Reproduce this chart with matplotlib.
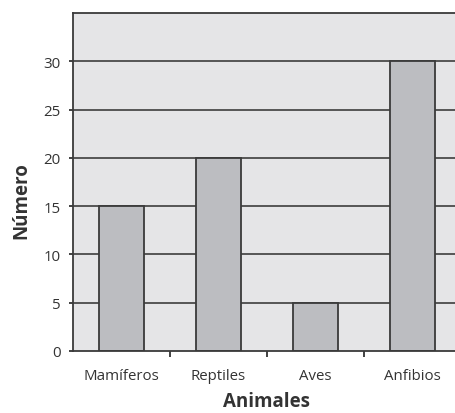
import matplotlib.pyplot as plt
import numpy as np

# número de especies por grupo
animales = ['Mamíferos', 'Reptiles', 'Aves', 'Anfibios']
numero = [15, 20, 5, 30]
marcas_y = [0, 5, 10, 15, 20, 25, 30]

plt.rcParams['font.family'] = ['Open Sans', 'DejaVu Sans']

fig = plt.figure(figsize=(4.56, 4.14), dpi=100)
# el eje se sale un poco por la derecha de la figura
ax = fig.add_axes([0.160, 0.150, 0.851, 0.816])
ax.set_facecolor('#e5e5e7')

x = np.arange(len(animales))
ax.set_xlim(-0.5, len(animales) - 0.5)
ax.set_ylim(0, 35)

# líneas horizontales detrás de las barras
for v in marcas_y[1:]:
    ax.axhline(v, color='#4a4a4a', lw=1.3, zorder=1)

ax.bar(x, numero, width=0.46, color='#bcbdc1', edgecolor='#3a3a3a',
       linewidth=1.3, zorder=2)

ax.set_yticks(marcas_y)
ax.set_xticks(x)
ax.set_xticklabels(animales)
ax.set_xticks(x[:-1] + 0.5, minor=True)
ax.tick_params(axis='x', which='major', length=0, pad=12, labelsize=10.8,
               colors='#333333')
ax.tick_params(axis='x', which='minor', length=4.5, width=1.3, color='#333333')
ax.tick_params(axis='y', length=3, width=1.3, color='#333333', labelsize=10.8,
               labelcolor='#333333', pad=6)

for s in ['left', 'bottom', 'top']:
    ax.spines[s].set_color('#3a3a3a')
    ax.spines[s].set_linewidth(1.3)
ax.spines['right'].set_visible(False)

ax.set_ylabel('Número', fontsize=13.5, fontweight='bold', color='#333333')
ax.yaxis.set_label_coords(-0.108, 0.447)
ax.set_xlabel('Animales', fontsize=13.5, fontweight='bold', color='#333333',
              labelpad=6)

fig.savefig('out.png', dpi=100)
